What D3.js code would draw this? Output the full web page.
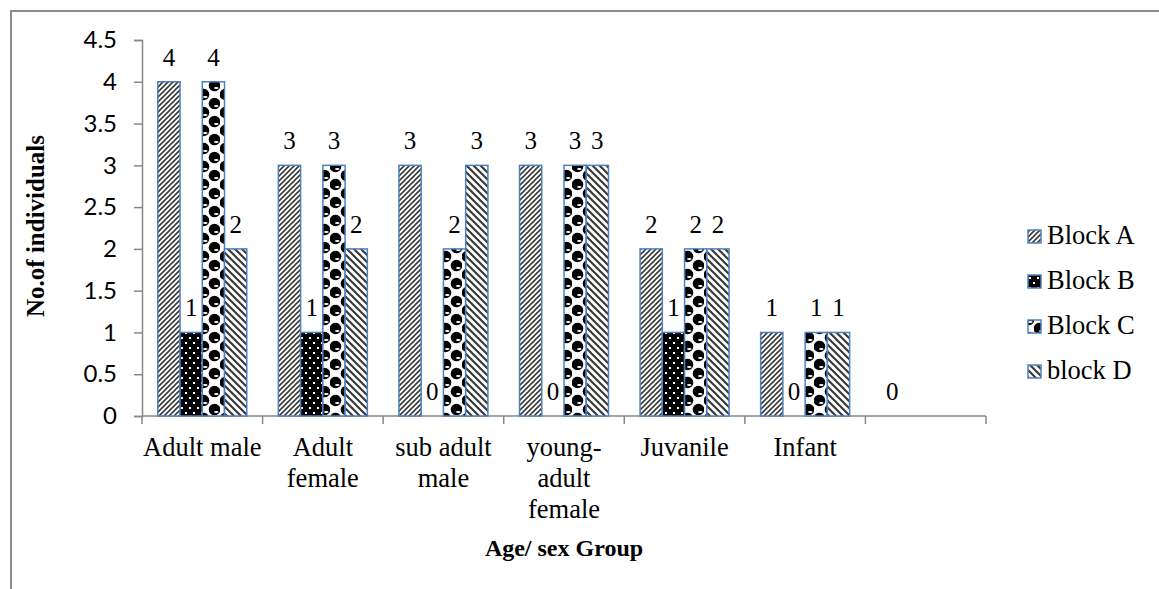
<!DOCTYPE html>
<html>
<head>
<meta charset="utf-8">
<script src="https://cdn.jsdelivr.net/npm/d3@7"></script>
<style>
  html, body { margin: 0; padding: 0; background: #fff; }
  svg { display: block; }
</style>
</head>
<body>
<svg id="chart" width="1159" height="589"></svg>
<script>
// Age / sex groups (the last slot is an unlabelled, empty group)
const categories = [
  ["Adult male"],
  ["Adult", "female"],
  ["sub adult", "male"],
  ["young-", "adult", "female"],
  ["Juvanile"],
  ["Infant"],
  [""]
];
const seriesNames = ["Block A", "Block B", "Block C", "block D"];

// Counts per block, one entry per category (null = no bar drawn)
const blockA = [4, 3, 3, 3, 2, 1, 0];
const blockB = [1, 1, 0, 0, 1, 0, null];
const blockC = [4, 3, 2, 3, 2, 1, null];
const blockD = [2, 2, 3, 3, 2, 1, null];

const yTicks = [0, 0.5, 1, 1.5, 2, 2.5, 3, 3.5, 4, 4.5];

const series = [blockA, blockB, blockC, blockD];

const svg = d3.select("#chart");
const serif = "'Liberation Serif', 'Times New Roman', serif";
const sans = "Lato, 'Open Sans', sans-serif";
const outline = "#4f81bd";
const axisGray = "#878787";

// ---------- fill patterns ----------
const defs = svg.append("defs");

// Block A: light upward diagonal
const pA = defs.append("pattern").attr("id", "patA")
  .attr("patternUnits", "userSpaceOnUse").attr("width", 5).attr("height", 5);
pA.append("rect").attr("width", 5).attr("height", 5).attr("fill", "#fff");
pA.append("path").attr("d", "M-1,1 L1,-1 M0,5 L5,0 M4,6 L6,4")
  .attr("stroke", "#3a3a3a").attr("stroke-width", 1.6);

// Block B: black with small white dots
const pB = defs.append("pattern").attr("id", "patB")
  .attr("patternUnits", "userSpaceOnUse").attr("width", 8).attr("height", 10);
pB.append("rect").attr("width", 8).attr("height", 10).attr("fill", "#000");
pB.append("rect").attr("x", 1).attr("y", 2).attr("width", 2).attr("height", 2).attr("fill", "#fff");
pB.append("rect").attr("x", 5).attr("y", 7).attr("width", 2).attr("height", 2).attr("fill", "#fff");

// Block C: staggered black spheres on a light checker
const pC = defs.append("pattern").attr("id", "patC")
  .attr("patternUnits", "userSpaceOnUse").attr("width", 22).attr("height", 18);
pC.append("rect").attr("width", 22).attr("height", 18).attr("fill", "#fff");
[[5.5, 4.5], [16.5, 13.5], [16.5, -4.5], [5.5, 22.5]].forEach(([cx, cy]) => {
  pC.append("circle").attr("cx", cx).attr("cy", cy).attr("r", 5.8).attr("fill", "#000");
  pC.append("ellipse").attr("cx", cx + 1.8).attr("cy", cy + 2.4).attr("rx", 2.3).attr("ry", 1)
    .attr("fill", "#fff");
});

// Block D: wide downward diagonal
const pD = defs.append("pattern").attr("id", "patD")
  .attr("patternUnits", "userSpaceOnUse").attr("width", 7).attr("height", 7);
pD.append("rect").attr("width", 7).attr("height", 7).attr("fill", "#fff");
pD.append("path").attr("d", "M-1,6 L1,8 M0,0 L7,7 M6,-1 L8,1")
  .attr("stroke", "#3a3a3a").attr("stroke-width", 2.2);

const fills = ["url(#patA)", "url(#patB)", "url(#patC)", "url(#patD)"];

// ---------- outer frame ----------
svg.append("rect")
  .attr("x", 11).attr("y", 11).attr("width", 1300).attr("height", 800)
  .attr("fill", "none").attr("stroke", "#8c8c8c").attr("stroke-width", 2);

// ---------- scales ----------
const plotLeft = 142, plotRight = 986, plotTop = 40, plotBottom = 416;

const x0 = d3.scaleBand()
  .domain(d3.range(categories.length))
  .range([plotLeft, plotRight])
  .paddingInner(0).paddingOuter(0);

const x1 = d3.scaleBand()
  .domain(d3.range(series.length))
  .range([0, x0.bandwidth()])
  .paddingInner(0).paddingOuter(0.71);

const y = d3.scaleLinear().domain([0, 4.5]).range([plotBottom, plotTop]);

// ---------- y axis ----------
const yAxis = svg.append("g")
  .attr("transform", `translate(${plotLeft},0)`)
  .call(d3.axisLeft(y).tickValues(yTicks).tickSize(8).tickPadding(17)
    .tickFormat(d => d3.format("")(d)));
yAxis.select(".domain").attr("stroke", axisGray).attr("stroke-width", 1.5);
yAxis.selectAll(".tick line").attr("stroke", axisGray).attr("stroke-width", 1.5);
yAxis.selectAll(".tick text")
  .attr("font-family", sans).attr("font-size", 24).attr("fill", "#000");

// ---------- x axis ----------
const xAxisG = svg.append("g").attr("transform", `translate(0,${plotBottom})`);
xAxisG.append("line")
  .attr("x1", plotLeft).attr("x2", plotRight)
  .attr("stroke", axisGray).attr("stroke-width", 1.5);
const xTickPos = d3.range(categories.length + 1).map(i =>
  i < categories.length ? x0(i) : x0(categories.length - 1) + x0.bandwidth());
xAxisG.selectAll(".xtick").data(xTickPos).join("line")
  .attr("class", "xtick")
  .attr("x1", d => d).attr("x2", d => d)
  .attr("y1", 0).attr("y2", 8)
  .attr("stroke", axisGray).attr("stroke-width", 1.5);

// category labels
const catLabels = svg.append("g");
categories.forEach((lines, i) => {
  const t = catLabels.append("text")
    .attr("x", x0(i) + x0.bandwidth() / 2)
    .attr("y", 456)
    .attr("text-anchor", "middle")
    .attr("font-family", serif).attr("font-size", 26.5).attr("fill", "#000");
  lines.forEach((ln, k) => {
    t.append("tspan").attr("x", x0(i) + x0.bandwidth() / 2)
      .attr("dy", k === 0 ? 0 : 31).text(ln);
  });
});

// ---------- bars ----------
const barData = [];
series.forEach((vals, s) => {
  vals.forEach((v, c) => {
    if (v !== null) barData.push({ s, c, v });
  });
});

svg.append("g").selectAll("rect").data(barData.filter(d => d.v > 0)).join("rect")
  .attr("x", d => x0(d.c) + x1(d.s))
  .attr("y", d => y(d.v))
  .attr("width", x1.bandwidth())
  .attr("height", d => y(0) - y(d.v))
  .attr("fill", d => fills[d.s])
  .attr("stroke", outline).attr("stroke-width", 1.5);

// value labels
svg.append("g").selectAll("text").data(barData).join("text")
  .attr("x", d => x0(d.c) + x1(d.s) + x1.bandwidth() / 2)
  .attr("y", d => y(d.v) - 16)
  .attr("text-anchor", "middle")
  .attr("font-family", serif).attr("font-size", 25).attr("fill", "#000")
  .text(d => d.v);

// ---------- axis titles ----------
svg.append("text")
  .attr("transform", "translate(44,226) rotate(-90)")
  .attr("text-anchor", "middle")
  .attr("font-family", serif).attr("font-size", 25).attr("font-weight", "bold")
  .text("No.of individuals");

svg.append("text")
  .attr("x", 564).attr("y", 556)
  .attr("text-anchor", "middle")
  .attr("font-family", serif).attr("font-size", 24).attr("font-weight", "bold")
  .text("Age/ sex Group");

// ---------- legend ----------
const legend = svg.append("g");
seriesNames.forEach((name, i) => {
  const top = 230 + i * 45;
  legend.append("rect")
    .attr("x", 1028).attr("y", top).attr("width", 13).attr("height", 13)
    .attr("fill", fills[i]).attr("stroke", outline).attr("stroke-width", 1.5);
  legend.append("text")
    .attr("x", 1047).attr("y", top + 14)
    .attr("font-family", serif).attr("font-size", 26.5).attr("fill", "#000")
    .text(name);
});
</script>
</body>
</html>
